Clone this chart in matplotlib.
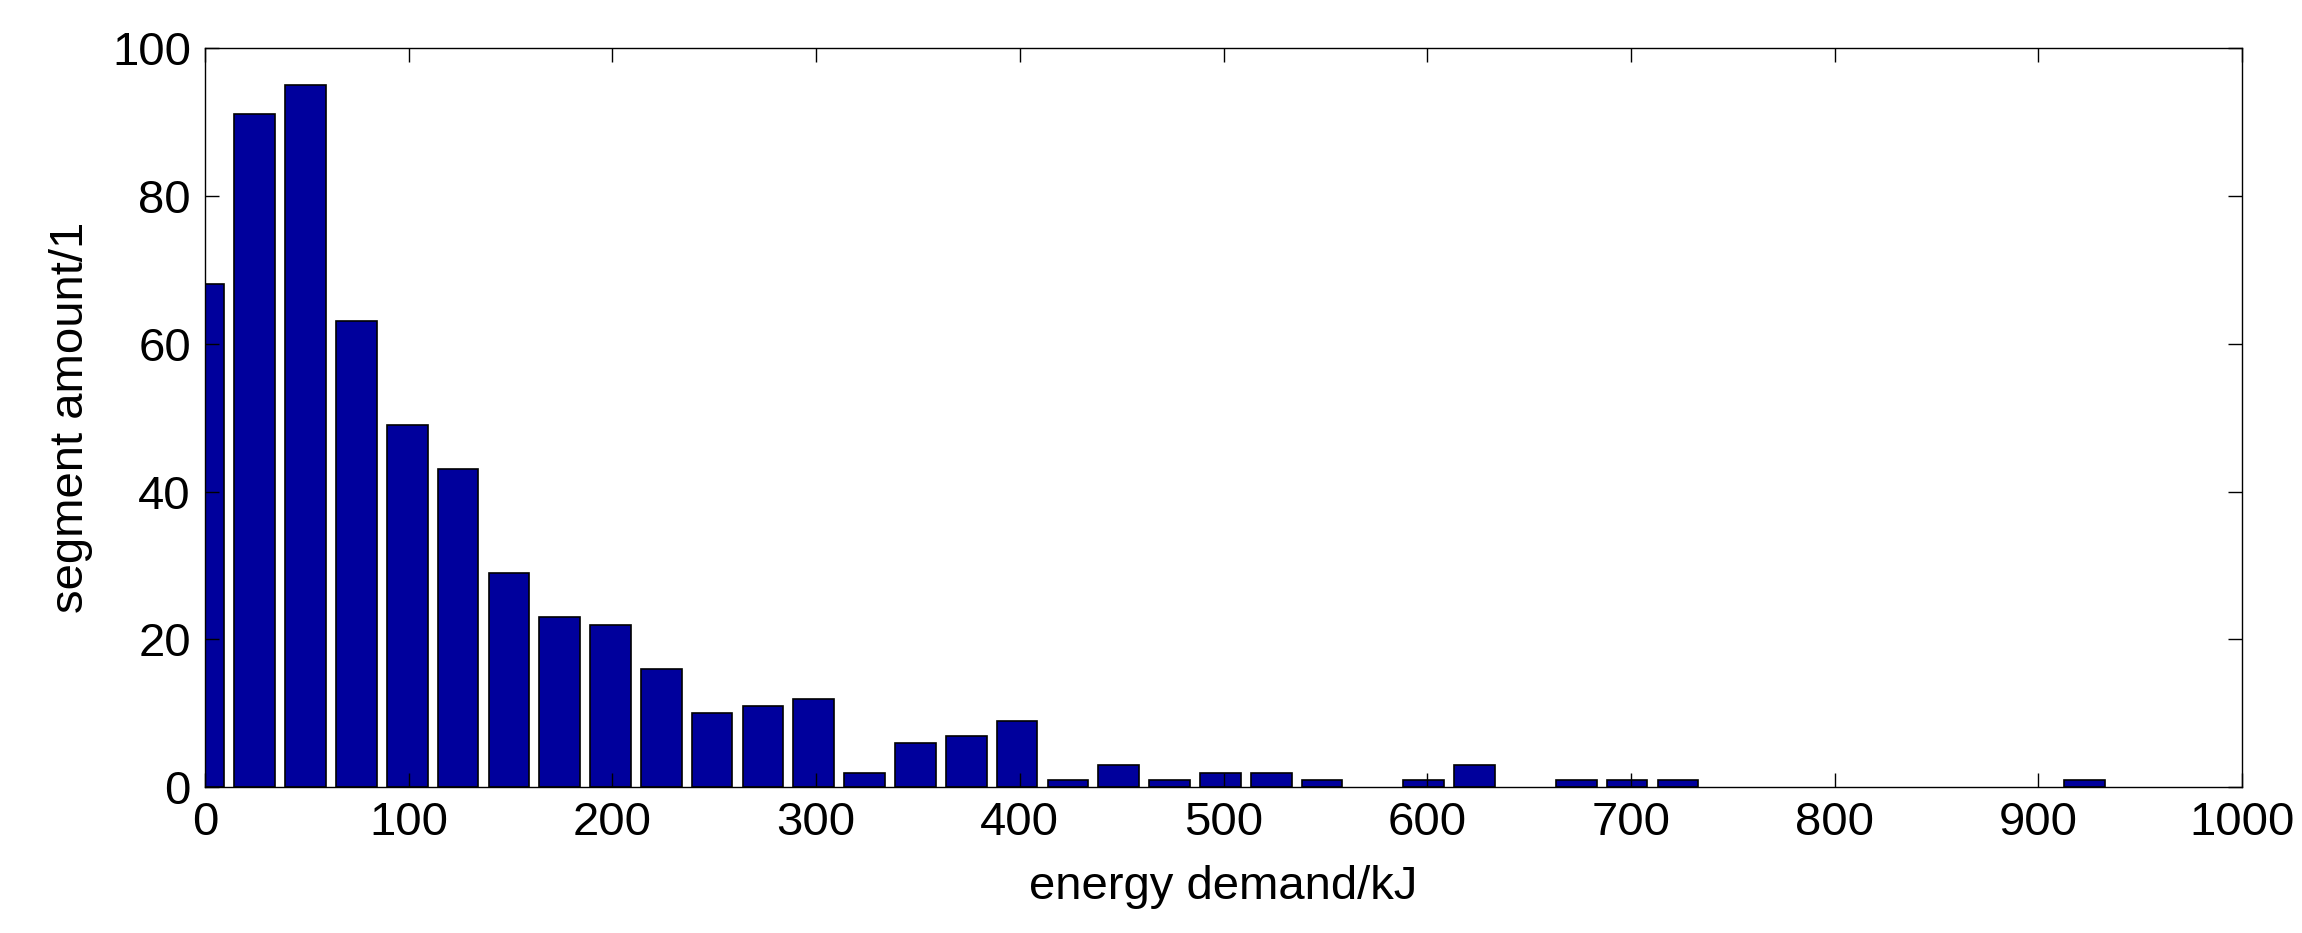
import matplotlib.pyplot as plt
import numpy as np

BIN_WIDTH = 24.95
bin_index = np.arange(38)
counts = [68, 91, 95, 63, 49, 43, 29, 23, 22, 16, 10, 11, 12, 2, 6, 7, 9, 1, 3, 1,
          2, 2, 1, 0, 1, 3, 0, 1, 1, 1, 0, 0, 0, 0, 0, 0, 0, 1]
x_ticks = [0, 100, 200, 300, 400, 500, 600, 700, 800, 900, 1000]
y_ticks = [0, 20, 40, 60, 80, 100]

plt.rcParams["font.family"] = "Liberation Sans"

fig = plt.figure(figsize=(23.02, 9.33), dpi=100)
ax = fig.add_axes([0.089, 0.156, 0.885, 0.793])

counts = np.array(counts, dtype=float)
centers = bin_index * BIN_WIDTH - 0.5
# skip empty bins so no flat outline is drawn on the axis
keep = counts > 0
ax.bar(centers[keep], counts[keep], BIN_WIDTH * 0.8, color="#00009C",
       edgecolor="black", linewidth=1.2)

ax.set_xlim(0, 1000)
ax.set_ylim(0, 100)
ax.set_xticks(x_ticks)
ax.set_yticks(y_ticks)
ax.tick_params(direction="in", length=10, width=1, labelsize=34, top=True, right=True, pad=10)
for s in ax.spines.values():
    s.set_linewidth(1)

ax.set_xlabel("energy demand/kJ", fontsize=34, labelpad=14)
ax.set_ylabel("segment amount/1", fontsize=34, labelpad=14)

fig.savefig("out.png", dpi=100)
